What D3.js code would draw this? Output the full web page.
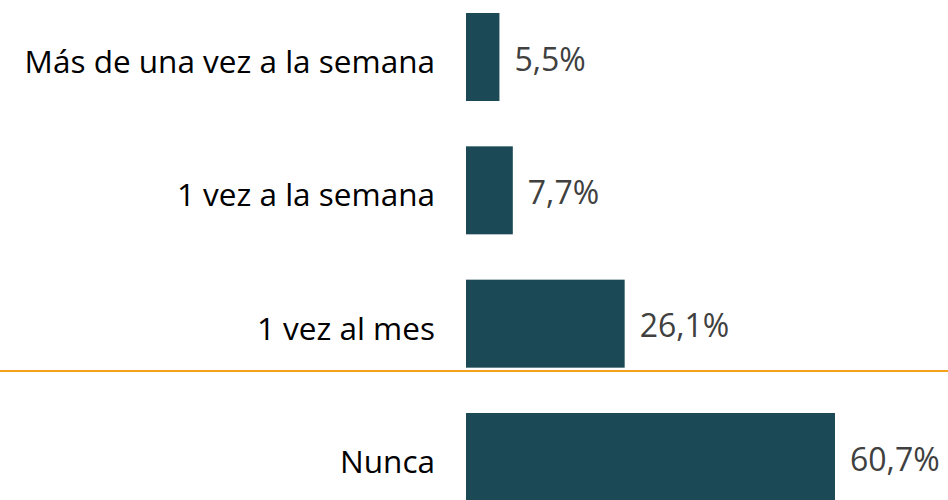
<!DOCTYPE html>
<html lang="es">
<head>
    <meta charset="UTF-8">
    <title>Frecuencia</title>
    <style>
        body{ margin:0; background:#fff;}
        svg{ display:block;}
        .cat{ font-family:"Open Sans", sans-serif; font-size:31.5px; fill:#000;}
        .val{ font-family:"Open Sans", sans-serif; font-size:32px; fill:#404040;}
    </style>
</head>
<body>

<script src="https://cdn.jsdelivr.net/npm/d3@7"></script>
<script>

var categories = ["Más de una vez a la semana", "1 vez a la semana", "1 vez al mes", "Nunca"];
var values = [5.5, 7.7, 26.1, 60.7];
var valueLabels = ["5,5%", "7,7%", "26,1%", "60,7%"];

var width = 948, height = 500;

var svg = d3.select("body").append("svg")
        .attr("width", width)
        .attr("height", height);

var x = d3.scaleLinear().domain([0, 60.7]).range([466, 835]);
var y = d3.scaleBand().domain(categories).range([13, 501]).paddingInner(0.34);

svg.selectAll(".bar")
    .data(values)
    .enter().append("rect")
        .attr("class", "bar")
        .attr("x", x(0))
        .attr("y", function(d, i){ return y(categories[i]); })
        .attr("width", function(d){ return x(d) - x(0); })
        .attr("height", y.bandwidth())
        .attr("fill", "#1b4955");

// orange separator
svg.append("line")
    .attr("x1", 0).attr("x2", width)
    .attr("y1", 371).attr("y2", 371)
    .attr("stroke", "#f5a01a")
    .attr("stroke-width", 2);

svg.selectAll(".cat")
    .data(categories)
    .enter().append("text")
        .attr("class", "cat")
        .attr("x", 435)
        .attr("y", function(d){ return y(d) + y.bandwidth()/2 + 16; })
        .attr("text-anchor", "end")
        .text(function(d){ return d; });

svg.selectAll(".val")
    .data(values)
    .enter().append("text")
        .attr("class", "val")
        .attr("x", function(d){ return x(d) + 15; })
        .attr("y", function(d, i){ return y(categories[i]) + y.bandwidth()/2 + 13.5; })
        .text(function(d, i){ return valueLabels[i]; });

</script>
</body>
</html>
